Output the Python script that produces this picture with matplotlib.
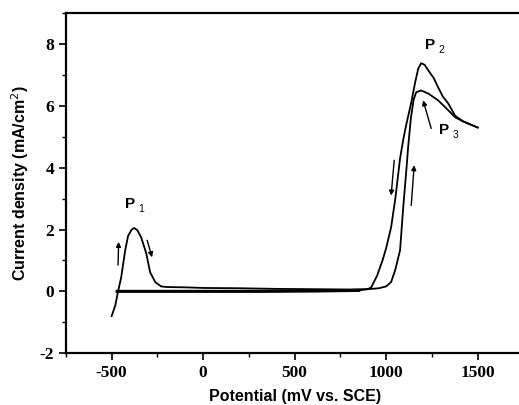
import matplotlib

matplotlib.use("Agg")
import matplotlib.pyplot as plt
from matplotlib.ticker import MultipleLocator

plt.rcParams["axes.unicode_minus"] = False

# forward scan: P1 peak, passive plateau, right-hand rising branch, P3
pot_fwd = [-500, -480, -465, -448, -426, -410, -390, -377, -360, -339, -311, -290,
           -262, -230, -200, -100, 0, 200, 400, 600, 800, 880, 920, 960, 1000,
           1027, 1050, 1076, 1093, 1110, 1120, 1135, 1150, 1164, 1191, 1230,
           1284, 1339, 1377, 1420, 1460, 1500]
cur_fwd = [-0.8, -0.45, 0.0, 0.45, 1.33, 1.8, 2.0, 2.05, 1.98, 1.75, 1.23, 0.62,
           0.3, 0.16, 0.14, 0.13, 0.11, 0.1, 0.08, 0.07, 0.06, 0.07, 0.08, 0.1, 0.16,
           0.3, 0.7, 1.33, 2.7, 3.9, 4.66, 5.6, 6.2, 6.44, 6.5, 6.4,
           6.18, 5.86, 5.63, 5.5, 5.4, 5.3]

# reverse scan: P2 peak, left-hand branch, baseline back to start
pot_rev = [1500, 1460, 1420, 1377, 1339, 1310, 1284, 1260, 1230, 1210, 1191, 1175,
           1158, 1137, 1110, 1093, 1076, 1050, 1027, 1000, 980, 950, 918, 900, 850,
           600, 300, 0, -300, -470]
cur_rev = [5.3, 5.4, 5.5, 5.68, 6.08, 6.3, 6.6, 6.9, 7.15, 7.33, 7.38, 7.2,
           6.75, 6.1, 5.4, 4.9, 4.3, 3.0, 2.07, 1.4, 1.0, 0.5, 0.13, 0.07, 0.03,
           0.01, 0.0, 0.0, 0.0, 0.0]

# scan direction arrows: (start x, start y, end x, end y)
arrows = [(-465, 0.85, -462, 1.6), (-306, 1.65, -279, 1.1),
          (1044, 4.24, 1027, 3.1), (1137, 2.78, 1153, 4.08),
          (1246, 5.27, 1202, 6.18)]
peak_names = ["1", "2", "3"]
peak_pos = [(-425, 2.6), (1212, 7.75), (1290, 5.0)]

fig = plt.figure(figsize=(5.19, 4.05), dpi=100)
ax = fig.add_axes([0.127, 0.128, 0.8815, 0.8395])

ax.plot(pot_fwd, cur_fwd, color="black", lw=1.3)
ax.plot(pot_rev, cur_rev, color="black", lw=1.3)
ax.plot(pot_rev[-6:], cur_rev[-6:], color="black", lw=2.2)

for x0, y0, x1, y1 in arrows:
    ax.annotate("", xy=(x1, y1), xytext=(x0, y0),
                arrowprops=dict(arrowstyle="-|>", color="black", lw=1.0,
                                mutation_scale=7, shrinkA=0, shrinkB=0))

for name, (px, py) in zip(peak_names, peak_pos):
    ax.text(px, py, "P", fontsize=11, fontweight="bold", family="Liberation Sans",
            ha="left", va="bottom")
    ax.annotate(name, xy=(px, py), xytext=(9.5, -2.5), textcoords="offset points",
                fontsize=7.5, family="Liberation Sans", ha="left", va="bottom")

ax.set_xlim(-750, 1750)
ax.set_ylim(-2, 9)
ax.xaxis.set_major_locator(MultipleLocator(500))
ax.xaxis.set_minor_locator(MultipleLocator(250))
ax.yaxis.set_major_locator(MultipleLocator(2))
ax.yaxis.set_minor_locator(MultipleLocator(1))
ax.tick_params(which="major", direction="out", length=5, width=1.2)
ax.tick_params(which="minor", direction="out", length=3, width=1.0)
for lab in ax.get_xticklabels() + ax.get_yticklabels():
    lab.set_fontfamily("Liberation Serif")
    lab.set_fontweight("bold")
    lab.set_fontsize(12.5)
for sp in ax.spines.values():
    sp.set_linewidth(1.6)

ax.set_xlabel("Potential (mV vs. SCE)", fontsize=11.5, fontweight="bold",
              family="Liberation Sans", labelpad=6)
ax.set_ylabel("Current density (mA/cm$^2$)", fontsize=11.5, fontweight="bold",
              family="Liberation Sans", labelpad=6)

fig.savefig("out.png", dpi=100)
